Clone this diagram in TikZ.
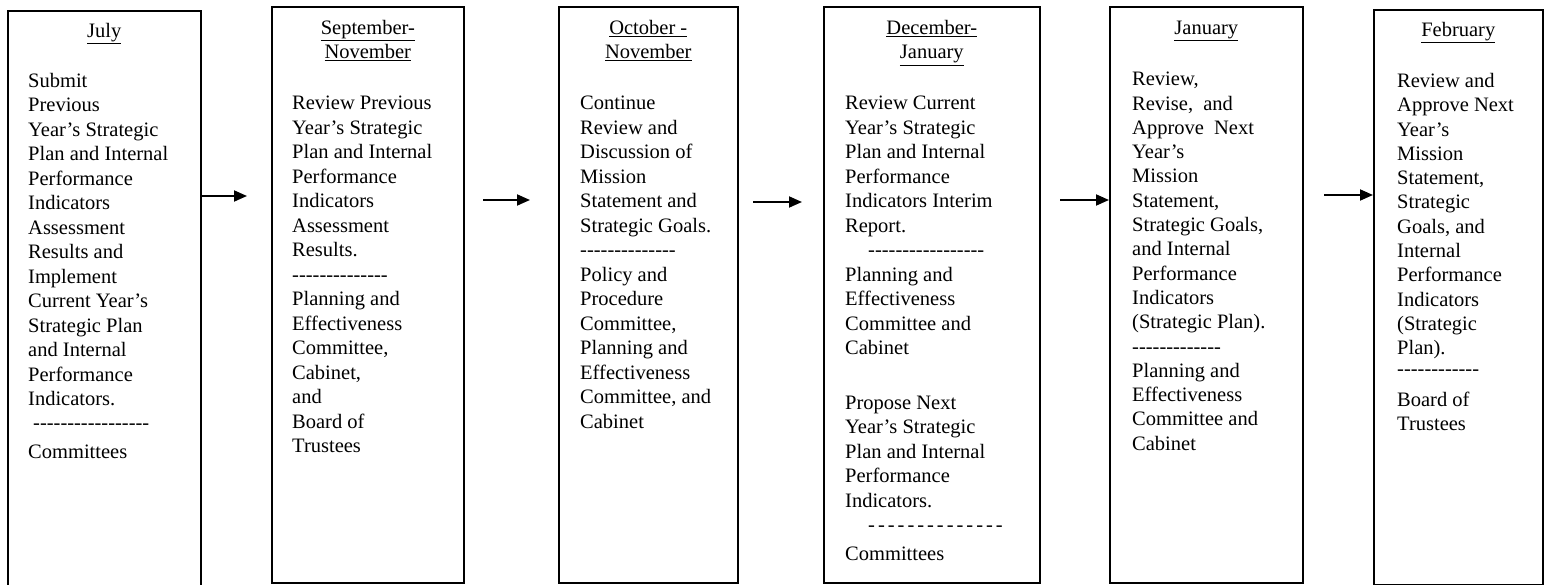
\documentclass[tikz,border=0pt]{standalone}
\usepackage{fontspec}
\setmainfont{Liberation Serif}
\usetikzlibrary{positioning,arrows.meta}

\newcommand{\dashrow}[1]{\foreach \k in {1,...,#1}{-\kern0pt}}
\newcommand{\gaprow}[1]{\foreach \k in {1,...,#1}{-\kern3pt}}

\begin{document}
\begin{tikzpicture}[x=1pt,y=-1pt,
  box/.style={draw,line width=1.6pt,rectangle,anchor=north west,inner sep=0pt},
  month/.style={inner sep=0pt,align=center,font={\fontsize{20.5}{24.5}\selectfont}},
  body/.style={inner sep=0pt,align=left,font={\fontsize{20.5}{24.5}\selectfont}},
  flow/.style={line width=1.8pt,-{Triangle[length=13pt,width=11pt]}}]
  \useasboundingbox (0,0) rectangle (1548,585);
  \clip (0,0) rectangle (1548,585);

  % boxes
  \node[box,minimum width=193pt,minimum height=600pt] (b1) at (7,10) {};
  \node[box,minimum width=192pt,minimum height=576pt] (b2) at (271,6) {};
  \node[box,minimum width=179pt,minimum height=576pt] (b3) at (558,6) {};
  \node[box,minimum width=216pt,minimum height=576pt] (b4) at (823,6) {};
  \node[box,minimum width=193pt,minimum height=576pt] (b5) at (1109,6) {};
  \node[box,minimum width=169pt,minimum height=575pt] (b6) at (1373,9) {};

  % months
  \node[month,below=13pt of b1.north] (m1) {\underline{July}};
  \node[month,below=14pt of b2.north] (m2) {\underline{September-}\\\underline{November}};
  \node[month,below=14pt of b3.north] (m3) {\underline{October -}\\\underline{November}};
  \node[month,below=14pt of b4.north] (m4) {\underline{December-}\\\underline{January}};
  \node[month,below=15pt of b5.north] (m5) {\underline{January}};
  \node[month,below=13pt of b6.north] (m6) {\underline{February}};

  % tasks
  \node[body,below right=63pt and 21pt of b1.north west] (t1) {Submit\\Previous\\Year’s Strategic\\Plan and Internal\\Performance\\Indicators\\Assessment\\Results and\\Implement\\Current Year’s\\Strategic Plan\\and Internal\\Performance\\Indicators.\\[-1pt]\hspace*{5pt}\dashrow{17}\\[5pt]Committees};
  \node[body,below right=90pt and 21pt of b2.north west] (t2) {Review Previous\\Year’s Strategic\\Plan and Internal\\Performance\\Indicators\\Assessment\\Results.\\\dashrow{14}\\Planning and\\Effectiveness\\Committee,\\Cabinet,\\and\\Board of\\Trustees};
  \node[body,below right=90pt and 22pt of b3.north west] (t3) {Continue\\Review and\\Discussion of\\Mission\\Statement and\\Strategic Goals.\\\dashrow{14}\\Policy and\\Procedure\\Committee,\\Planning and\\Effectiveness\\Committee, and\\Cabinet};
  \node[body,below right=90pt and 22pt of b4.north west] (t4) {Review Current\\Year’s Strategic\\Plan and Internal\\Performance\\Indicators Interim\\Report.\\\hspace*{23pt}\dashrow{17}\\Planning and\\Effectiveness\\Committee and\\Cabinet\\[30pt]Propose Next\\Year’s Strategic\\Plan and Internal\\Performance\\Indicators.\\\hspace*{23pt}\gaprow{14}\\[4pt]Committees};
  \node[body,font={\fontsize{20.5}{24.3}\selectfont},below right=66pt and 23pt of b5.north west] (t5) {Review,\\Revise,~ and\\Approve~ Next\\Year’s\\Mission\\Statement,\\Strategic Goals,\\and Internal\\Performance\\Indicators\\(Strategic Plan).\\\dashrow{13}\\Planning and\\Effectiveness\\Committee and\\Cabinet};
  \node[body,font={\fontsize{20.5}{24.3}\selectfont},below right=64pt and 24pt of b6.north west] (t6) {Review and\\Approve Next\\Year’s\\Mission\\Statement,\\Strategic\\Goals, and\\Internal\\Performance\\Indicators\\(Strategic\\Plan).\\[-4pt]\dashrow{12}\\[7pt]Board of\\Trustees};

  % arrows
  \coordinate (a1e) at (247,196);
  \coordinate (a2s) at (483,200);
  \coordinate (a2e) at (530,200);
  \coordinate (a3s) at (753,202);
  \coordinate (a3e) at (802,202);
  \coordinate (a4s) at (1060,200);
  \coordinate (a5s) at (1324,195);
  \draw[flow] (b1.east |- a1e) -- (a1e);
  \draw[flow] (a2s) -- (a2e);
  \draw[flow] (a3s) -- (a3e);
  \draw[flow] (a4s) -- (b5.west |- a4s);
  \draw[flow] (a5s) -- (b6.west |- a5s);
\end{tikzpicture}
\end{document}
